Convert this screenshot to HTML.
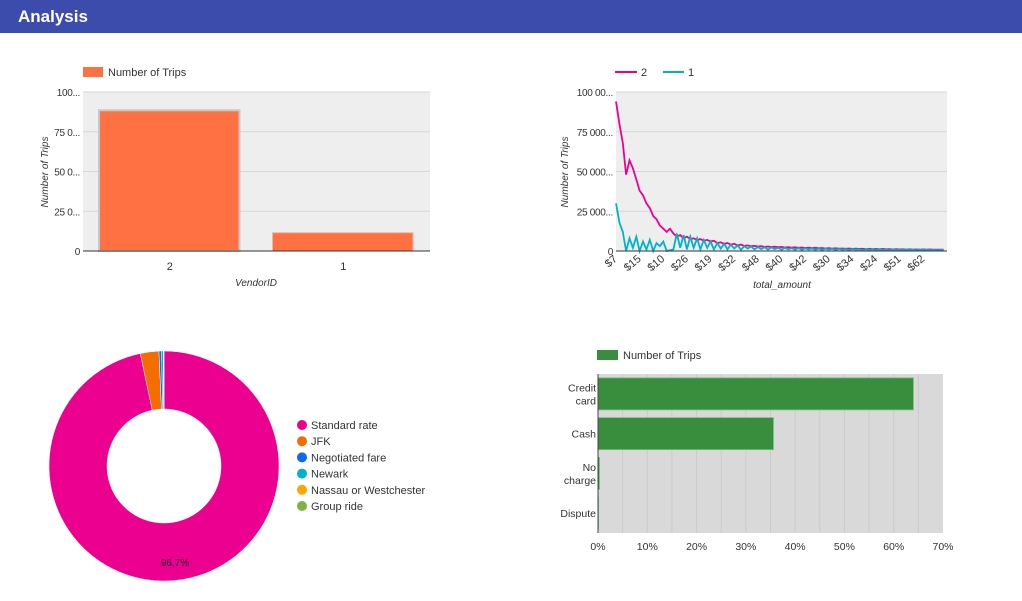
<!DOCTYPE html>
<html><head><meta charset="utf-8">
<style>
body{margin:0;width:1022px;height:601px;background:#fff;font-family:"Liberation Sans",Roboto,sans-serif;overflow:hidden;position:relative}
#hdr{position:absolute;left:0;top:0;width:1022px;height:33px;background:#3b4cad}
#hdr span{position:absolute;left:18px;top:7px;color:#fff;font-size:17px;font-weight:bold}
svg{position:absolute;left:0;top:0}
text{font-family:"Liberation Sans",sans-serif}
</style></head><body>
<div id="hdr"><span>Analysis</span></div>
<svg id="s" width="1022" height="601"></svg>
<script>
// Chart 1: vendor bar chart
const vendorCats=["2","1"];
const vendorTrips=[88500,11500];
const vendorTicks=["0","25 0...","50 0...","75 0...","100..."];
// Chart 2: total_amount lines
const amountLabels=["$7","$15","$10","$26","$19","$32","$48","$40","$42","$30","$34","$24","$51","$62"];
const lineTicks=["0","25 000...","50 000...","75 000...","100 00..."];
const series2=[94000,80000,68000,48000,57000,52000,45000,38000,35000,30000,27000,22000,20000,16000,14000,12000,14000,11000,9000,10000,8000,9000,7500,8000,7000,7500,6500,7000,6000,6500,5000,5500,4500,5000,4000,4500,3500,4000,3200,3500,3000,3200,2800,3000,2600,2800,2500,2700,2400,2600,2200,2400,2100,2300,2000,2200,1900,2100,1800,2000,1700,1900,1600,1800,1500,1700,1500,1600,1400,1600,1300,1500,1300,1400,1200,1400,1200,1300,1100,1300,1100,1200,1000,1200,1000,1100,900,1100,900,1000,900,1000,800,1000,800,900,800,900];
const series1=[30000,18000,12000,0,8000,2000,9000,0,6000,1000,7000,0,5000,3000,6000,0,500,1000,11000,2000,10000,1000,9000,2000,8000,1000,7000,2000,6000,1000,5000,1500,4500,1000,4000,1500,3500,800,3000,1500,2800,1000,2500,1200,2400,900,2300,1200,2000,800,2000,1000,1800,900,1900,700,1700,1000,1600,800,1500,600,1500,900,1400,700,1300,800,1200,600,1200,900,1100,500,1100,800,1000,600,1000,700,900,500,1000,600,900,500,800,700,800,400,800,600,700,500,700,400,600,500];
// Chart 3: rate code donut
const rateNames=["Standard rate","JFK","Negotiated fare","Newark","Nassau or Westchester","Group ride"];
const rateShares=[96.7,2.6,0.35,0.25,0.07,0.03];
const rateColors=["#ec0090","#f46d00","#0b6bea","#00b3c7","#ffa500","#7cb342"];
// Chart 4: payment type
const payCats=[["Credit","card"],["Cash"],["No","charge"],["Dispute"]];
const payShares=[64,35.6,0.3,0.1];
const payTicks=[0,10,20,30,40,50,60,70];

const S=document.getElementById('s');const NS='http://www.w3.org/2000/svg';
function mk(t,a,p){const e=document.createElementNS(NS,t);for(const k in a)e.setAttribute(k,a[k]);(p||S).appendChild(e);return e;}
function tx(x,y,s,a){const e=mk('text',Object.assign({x:x,y:y,'font-size':11,fill:'#333'},a||{}));e.textContent=s;return e;}

// ---------- Chart 1 ----------
{const L=83,R=430,T=92,B=251,max=100000;
const g=mk('g',{});
const bg=mk('rect',{x:L,y:T,width:R-L,height:B-T,fill:'#eeeeee'},g);
const y=v=>B-v/max*(B-T);
vendorTicks.forEach((t,i)=>{const v=i*25000;const yy=y(v);
 if(i>0){const l=mk('line',{x1:L,x2:R,y1:yy,y2:yy,stroke:'#d6d6d6'},g);}
 const e=tx(L-3,yy+4,t,{'text-anchor':'end','font-size':10,'letter-spacing':'-0.3'});});
const bw=(R-L)/vendorCats.length;
vendorCats.forEach((c,i)=>{const x0=L+bw*i+16,w=bw-33;
 const r=mk('rect',{x:x0,y:y(vendorTrips[i]),width:w,height:B-y(vendorTrips[i]),fill:'#ff7043',stroke:i==0?'#c8c8c8':'#ffb199','stroke-width':i==0?2:1},g);
 const e=tx(L+bw*(i+.5),270,c,{'text-anchor':'middle'});});
const ax=mk('line',{x1:L,x2:R,y1:B,y2:B,stroke:'#333'},g);
let e=tx(256,286,'VendorID',{'text-anchor':'middle','font-style':'italic','font-size':10});
e=tx(0,0,'Number of Trips',{'text-anchor':'middle','font-style':'italic','font-size':10,transform:'translate(48,172) rotate(-90)'});
const sw=mk('rect',{x:83,y:67,width:20,height:10,fill:'#ff7043'});
e=tx(108,76,'Number of Trips');
}
// ---------- Chart 2 ----------
{const L=616,R=947,T=92,B=251,max=100000;
const bg=mk('rect',{x:L,y:T,width:R-L,height:B-T,fill:'#eeeeee'});
const y=v=>B-v/max*(B-T);const n=series2.length;const x=i=>L+i*(R-L)/n;
lineTicks.forEach((t,i)=>{const yy=y(i*25000);
 if(i>0){const l=mk('line',{x1:L,x2:R,y1:yy,y2:yy,stroke:'#d6d6d6'});}
 const e=tx(L-3,yy+4,t,{'text-anchor':'end','font-size':10,'letter-spacing':'-0.3'});});
const step=n/amountLabels.length;
amountLabels.forEach((t,i)=>{const xx=x(i*step);const e=tx(0,0,t,{'text-anchor':'end',transform:`translate(${xx+2},${260}) rotate(-40)`});});
[[series2,'#ec0090','line-vendor-2'],[series1,'#00b3c7','line-vendor-1']].forEach(([d,c,nm])=>{
 const p=mk('polyline',{points:d.map((v,i)=>x(i).toFixed(1)+','+y(v).toFixed(1)).join(' '),fill:'none',stroke:c,'stroke-width':1.8});});
const ax=mk('line',{x1:L,x2:R,y1:B,y2:B,stroke:'#333'});
let e=tx(782,288,'total_amount',{'text-anchor':'middle','font-style':'italic','font-size':10});
e=tx(0,0,'Number of Trips',{'text-anchor':'middle','font-style':'italic','font-size':10,transform:'translate(568,172) rotate(-90)'});
let l=mk('line',{x1:615,x2:637,y1:72,y2:72,stroke:'#ec0090','stroke-width':2});
e=tx(641,76,'2');
l=mk('line',{x1:663,x2:684,y1:72,y2:72,stroke:'#00b3c7','stroke-width':2});
e=tx(688,76,'1');
}
// ---------- Chart 3 ----------
{const cx=164,cy=466,ro=115,ri=57;const tot=rateShares.reduce((a,b)=>a+b,0);
let a0=0;
rateShares.forEach((v,i)=>{const a1=a0+v/tot*2*Math.PI;
 const p=(r,a)=>[cx+r*Math.sin(a),cy-r*Math.cos(a)];const lg=(a1-a0)>Math.PI?1:0;
 const [x1,y1]=p(ro,a0),[x2,y2]=p(ro,a1),[x3,y3]=p(ri,a1),[x4,y4]=p(ri,a0);
 const s=mk('path',{d:`M${x1},${y1}A${ro},${ro} 0 ${lg} 1 ${x2},${y2}L${x3},${y3}A${ri},${ri} 0 ${lg} 0 ${x4},${y4}Z`,fill:rateColors[i],stroke:'#fff','stroke-width':0.5});
 a0=a1;});
let e=tx(175,566,(rateShares[0]).toFixed(1).replace('.',',')+'%',{'text-anchor':'middle','font-size':10,fill:'#222'});
rateNames.forEach((nm,i)=>{const yy=425+i*16.2;
 const c=mk('circle',{cx:302,cy:yy,r:5,fill:rateColors[i]});
 const t=tx(311,yy+4,nm);});
}
// ---------- Chart 4 ----------
{const L=598,R=943,T=374,B=533,max=70;
const bg=mk('rect',{x:L,y:T,width:R-L,height:B-T,fill:'#d9d9d9'});
const x=v=>L+v/max*(R-L);
for(let v=5;v<max;v+=5){const l=mk('line',{x1:x(v),x2:x(v),y1:T,y2:B,stroke:'#cbcbcb'});}
payTicks.forEach(v=>{const e=tx(x(v),550,v+'%',{'text-anchor':'middle','font-size':10.5});});
const bh=(B-T)/payCats.length;
payCats.forEach((c,i)=>{const yc=T+bh*(i+.5);
 const r=mk('rect',{x:L,y:yc-16,width:x(payShares[i])-L,height:32,fill:'#388e3c',stroke:'#7fba82','stroke-width':0.8});
 c.forEach((w,j)=>{const e=tx(596,yc+4+(j-(c.length-1)/2)*13,w,{'text-anchor':'end','font-size':10.5});});});
const ax=mk('line',{x1:L,x2:L,y1:T,y2:B,stroke:'#444'});
const sw=mk('rect',{x:597,y:350,width:21,height:10,fill:'#388e3c'});
const e=tx(623,359,'Number of Trips');
}
</script>
</body></html>
